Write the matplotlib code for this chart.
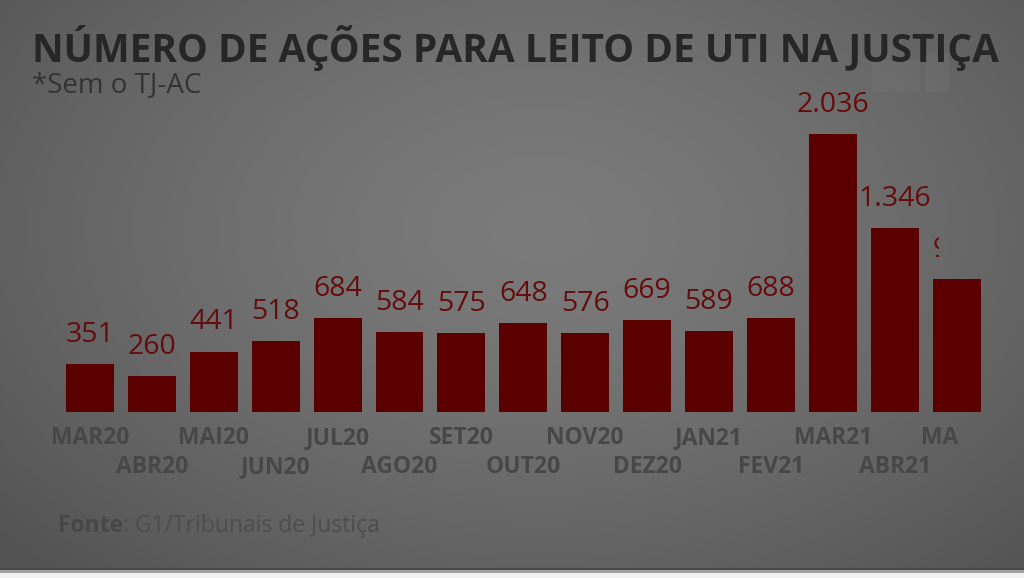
import matplotlib
matplotlib.use("Agg")
import matplotlib.pyplot as plt
import numpy as np
from matplotlib.patches import Rectangle
from matplotlib.transforms import Bbox, TransformedBbox

# data
months = ["MAR20", "ABR20", "MAI20", "JUN20", "JUL20", "AGO20", "SET20", "OUT20",
          "NOV20", "DEZ20", "JAN21", "FEV21", "MAR21", "ABR21", "MAI21"]
acoes = [351, 260, 441, 518, 684, 584, 575, 648, 576, 669, 589, 688, 2036, 1346, 970]
labels = ["351", "260", "441", "518", "684", "584", "575", "648", "576", "669",
          "589", "688", "2.036", "1.346", "970"]

body = "Open Sans"

W, H = 1024, 578
fig = plt.figure(figsize=(W / 100, H / 100), dpi=100)

# background: soft radial gradient
bg = fig.add_axes([0, 0, 1, 1], zorder=0)
yy, xx = np.mgrid[0:H, 0:W]
r = np.sqrt(((xx - 540) / 720) ** 2 + ((yy - 230) / 470) ** 2)
r = np.clip(r, 0, 1)
v = (123 - 40 * r ** 1.4) / 255
bg.imshow(np.dstack([v, v, v]), extent=[0, W, H, 0], aspect="auto")
bg.set_xlim(0, W)
bg.set_ylim(H, 0)
bg.axis("off")

# faint watermark
bg.add_patch(Rectangle((872, 60), 48, 32, color="white", alpha=0.03, lw=0))
bg.add_patch(Rectangle((925, 52), 24, 40, color="white", alpha=0.035, lw=0))

# bottom strip of the frame
bg.add_patch(Rectangle((0, 568), W, 2, color="#4a4a4a", lw=0))
bg.add_patch(Rectangle((0, 570), W, 3, color="#a0a0a0", lw=0))
bg.add_patch(Rectangle((0, 573), W, 5, color="#f2f2f2", lw=0))

# main chart
base_px = 411.7
ax = fig.add_axes([0, (H - base_px) / H, 1, base_px / H], zorder=1)
ax.patch.set_alpha(0)
step = 61.9
ax.set_xlim(-90 / step, (W - 90) / step)
ax.set_ylim(0, base_px / 0.1365)
ax.axis("off")

x = np.arange(len(months))
ax.bar(x, acoes, width=0.775, color="#5a0000", zorder=2)

for i, (val, lab) in enumerate(zip(acoes, labels)):
    t = ax.annotate(lab, (i, val), xytext=(0, 16), textcoords="offset points",
                    ha="center", va="baseline", fontsize=20.5, color="#650c0c",
                    family=body, annotation_clip=False)
    if i == len(months) - 1:
        t.set_clip_box(TransformedBbox(Bbox([[0, 0], [939 / W, 1]]), fig.transFigure))
        t.set_clip_on(True)

# month labels in two staggered rows
xt = ax.get_xaxis_transform()
for i, m in enumerate(months):
    ypos = -26 / base_px if i % 2 == 0 else -55 / base_px
    t = ax.text(i, ypos, m, transform=xt, ha="center", va="center", fontsize=16.5,
                fontweight="bold", color="#474747", family=body)
    if i == len(months) - 1:
        t.set_clip_box(TransformedBbox(Bbox([[0, 0], [960 / W, 1]]), fig.transFigure))
        t.set_clip_on(True)

# titles and source
title = fig.text(32 / W, 1 - 62 / H, "NÚMERO DE AÇÕES PARA LEITO DE UTI NA JUSTIÇA",
                 fontsize=29, fontweight="bold", color="#262626", family=body,
                 va="baseline")
fig.canvas.draw()
tw = title.get_window_extent().width
title.set_fontsize(29 * 968 / tw)

fig.text(32 / W, 1 - 92 / H, "*Sem o TJ-AC", fontsize=20, color="#333333",
         family=body, va="baseline")
src = fig.text(58 / W, 1 - 532 / H, "Fonte", fontsize=16.5, fontweight="bold",
               color="#474747", family=body, va="baseline")
fig.canvas.draw()
ax.annotate(": G1/Tribunais de Justiça", xy=(1, 0), xycoords=src, va="bottom",
            fontsize=16.5, color="#4d4d4d", family=body, annotation_clip=False)

fig.savefig("out.png", dpi=100)
